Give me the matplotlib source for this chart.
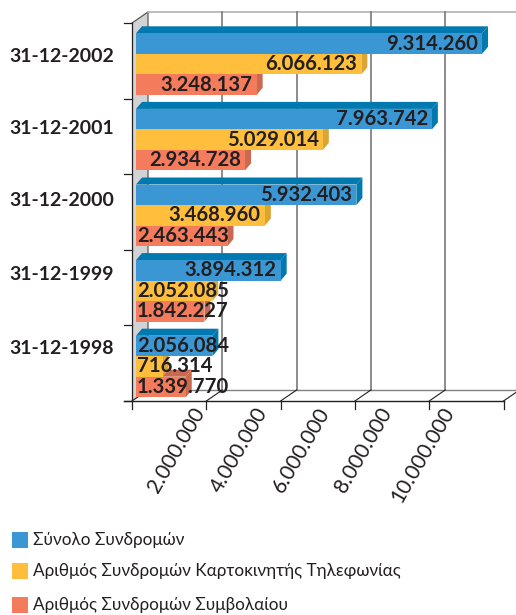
import matplotlib
matplotlib.use("Agg")
import matplotlib.pyplot as plt
from matplotlib.patches import Polygon, Rectangle

W, H = 516, 615
# pixel geometry of the front plane
X0, X_PER_UNIT = 132, 74.3 / 2000000
Y_TOP, Y_BOT = 23, 401
DX, DY = 16, 11       # depth of the box
BAR_X = 4             # bars start a bit behind the front plane
BAR_DX, BAR_DY = 6, 7

categories = ["31-12-1998", "31-12-1999", "31-12-2000", "31-12-2001", "31-12-2002"]
total = [2056084, 3894312, 5932403, 7963742, 9314260]
card = [716314, 2052085, 3468960, 5029014, 6066123]
contract = [1339770, 1842227, 2463443, 2934728, 3248137]
tick_values = [2000000, 4000000, 6000000, 8000000, 10000000]
tick_labels = ["2.000.000", "4.000.000", "6.000.000", "8.000.000", "10.000.000"]
legend_labels = ["Σύνολο Συνδρομών", "Αριθμός Συνδρομών Καρτοκινητής Τηλεφωνίας", "Αριθμός Συνδρομών Συμβολαίου"]

# labels don't line up with the ticks in the original
label_px = [203, 266, 328, 390, 452]
cat_label_y = [348, 274, 200, 128, 57]

colors = ["#3a97d4", "#ffbe3c", "#f47b5c"]
sides = ["#0078b0", "#d9a535", "#c96a50"]

plt.rcParams["font.family"] = ["Lato", "Open Sans", "DejaVu Sans"]

fig = plt.figure(figsize=(W / 100, H / 100), dpi=100, facecolor="white")
# axes in image pixels (y down), value scale handled by px()
ax = fig.add_axes([0, 0, 1, 1])
ax.set_xlim(0, W)
ax.set_ylim(H, 0)
ax.axis("off")


def px(v):
    return X0 + v * X_PER_UNIT


ink = "#231f20"
# side wall and floor
ax.add_patch(Polygon([(X0, Y_TOP), (X0 + DX, Y_TOP - DY), (X0 + DX, Y_BOT - DY), (X0, Y_BOT)],
                     fc="#d1d3d4", ec="none", zorder=1))
ax.plot([X0, X0 + DX, X0 + DX], [Y_TOP, Y_TOP - DY, Y_BOT - DY], color="#58595b", lw=0.9, zorder=2)
ax.plot([X0 + DX, W], [Y_TOP - DY, Y_TOP - DY], color="#b0b0b0", lw=1.2, zorder=2)
ax.plot([X0 + DX, W], [Y_BOT - DY, Y_BOT - DY], color="#808080", lw=1.0, zorder=2)
ax.plot([X0 - 8, px(10000000)], [Y_BOT, Y_BOT], color=ink, lw=1.0, zorder=2)
ax.plot([X0, X0], [Y_TOP, Y_BOT + 8], color=ink, lw=0.9, zorder=2)
ax.plot([X0, X0 + DX], [Y_BOT, Y_BOT - DY], color=ink, lw=0.8, zorder=2)

for v in tick_values:
    x = px(v)
    if v < 10000000:
        ax.plot([x + DX, x + DX], [Y_TOP - DY, Y_BOT - DY], color="#6d6e71", lw=1.1, zorder=2)
    ax.plot([x, x + DX], [Y_BOT, Y_BOT - DY], color=ink, lw=0.8, zorder=2)
    ax.plot([x, x], [Y_BOT, Y_BOT + 8], color=ink, lw=0.9, zorder=2)

n = len(categories)
step = (Y_BOT - Y_TOP) / n
for i in range(n + 1):
    y = Y_BOT - i * step
    ax.plot([X0 - 8, X0], [y, y], color=ink, lw=0.9, zorder=2)

bar_h = 20.5
for i, cat in enumerate(categories):
    y_mid = Y_BOT - (i + 0.5) * step
    ax.text(62, cat_label_y[i], cat, ha="center", va="center", fontsize=14, fontweight="bold", color=ink, zorder=6)
    y0 = y_mid - 27.5
    # bottom bar first, so the bar above hides its top face
    for j, series in reversed(list(enumerate([total, card, contract]))):
        top = y0 + j * bar_h
        left = X0 + BAR_X
        right = left + series[i] * X_PER_UNIT
        zo = 3 + (2 - j) * 0.1
        ax.add_patch(Polygon([(left, top), (left + BAR_DX, top - BAR_DY), (right + BAR_DX, top - BAR_DY), (right, top)],
                             fc=sides[j], ec="none", zorder=zo))
        ax.add_patch(Polygon([(right, top), (right + BAR_DX, top - BAR_DY),
                              (right + BAR_DX, top + bar_h - BAR_DY), (right, top + bar_h)],
                             fc=sides[j], ec="none", zorder=zo))
        ax.add_patch(Rectangle((left, top), right - left, bar_h, fc=colors[j], ec="none", zorder=zo))
        label = f"{series[i]:,}".replace(",", ".")
        # short bars: the label starts at the bar's left and spills over
        if right - left > 96:
            ax.text(right - 4, top + bar_h / 2, label, ha="right", va="center", fontsize=14.6,
                    fontweight="bold", color=ink, zorder=6)
        else:
            ax.text(left + 1, top + bar_h / 2, label, ha="left", va="center", fontsize=14.6,
                    fontweight="bold", color=ink, zorder=6)

for x, lab in zip(label_px, tick_labels):
    ax.text(x - 3, 409, lab, rotation=60, rotation_mode="anchor", ha="right", va="center",
            fontsize=15, fontweight="normal", color=ink)

for y, c, lab in zip([540, 571, 605], colors, legend_labels):
    ax.add_patch(Rectangle((12, y - 8), 16, 16, fc=c, ec="none"))
    ax.text(33, y, lab, ha="left", va="center", fontsize=12.3, color=ink)

fig.savefig("out.png", dpi=100)
